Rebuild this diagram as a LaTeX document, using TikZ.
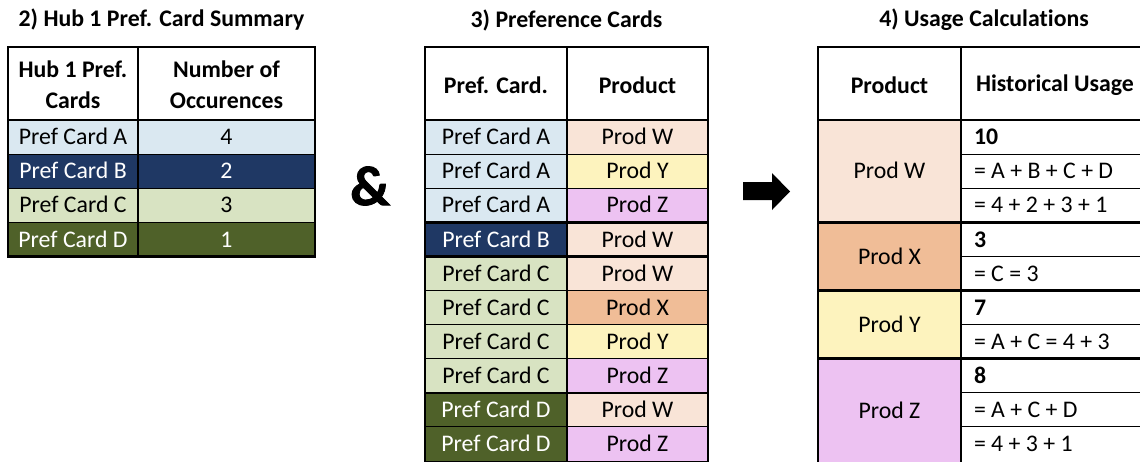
\documentclass[tikz,border=0pt]{standalone}
\usepackage{fontspec}
\setmainfont{Carlito}[Ligatures=NoCommon, RawFeature={-calt;-liga;-clig}]
\newfontfamily\ampfont{Carlito}[BoldFeatures={FakeBold=1.6}]
\definecolor{cardA}{HTML}{DAE8F1}
\definecolor{cardB}{HTML}{1F3864}
\definecolor{cardC}{HTML}{D8E3C2}
\definecolor{cardD}{HTML}{4F6129}
\definecolor{prodW}{HTML}{F9E4D7}
\definecolor{prodX}{HTML}{F0BD97}
\definecolor{prodY}{HTML}{FDF3BE}
\definecolor{prodZ}{HTML}{EDC2F2}
\tikzset{
  txt/.style={font=\fontsize{23.8}{31}\selectfont},
  cell/.style={txt, inner sep=0pt, outer sep=0pt, text height=19pt, text depth=3.7pt},
  hdr/.style={txt, font=\fontsize{23.8}{31}\selectfont\bfseries, align=center, inner sep=0pt},
  title/.style={txt, font=\fontsize{23.8}{31}\selectfont\bfseries, inner sep=0pt},
  dark/.style={text=white},
  calc/.style={cell, anchor=west},
  heavy/.style={line width=2.6pt},
  light/.style={line width=1.1pt},
  midrule/.style={line width=1.6pt},
}
\begin{document}
\begin{tikzpicture}[x=1pt,y=-1pt]
\useasboundingbox (0,0) rectangle (1140,461);
\clip (0,0) rectangle (1140,461);
\fill[white] (0,0) rectangle (1140,461);

% ---------- 2) summary table ----------
\node[title] (t2) at (161.5,20) {2) Hub 1 Pref. Card Summary};
\node[hdr] (s-h1) at (73,85) {Hub 1 Pref.\\Cards};
\node[hdr] (s-h2) at (226.5,85) {Number of\\Occurences};
\node[cell, fill=cardA, minimum width=130pt, minimum height=34.1pt] (s-a) at (73,137.05) {Pref Card A};
\node[cell, fill=cardA, minimum width=177pt, minimum height=34.1pt] (s-an) at (226.5,137.05) {4};
\node[cell, dark, fill=cardB, minimum width=130pt, minimum height=34.1pt] (s-b) at (73,171.15) {Pref Card B};
\node[cell, dark, fill=cardB, minimum width=177pt, minimum height=34.1pt] (s-bn) at (226.5,171.15) {2};
\node[cell, fill=cardC, minimum width=130pt, minimum height=34.1pt] (s-c) at (73,205.25) {Pref Card C};
\node[cell, fill=cardC, minimum width=177pt, minimum height=34.1pt] (s-cn) at (226.5,205.25) {3};
\node[cell, dark, fill=cardD, minimum width=130pt, minimum height=34.1pt] (s-d) at (73,239.35) {Pref Card D};
\node[cell, dark, fill=cardD, minimum width=177pt, minimum height=34.1pt] (s-dn) at (226.5,239.35) {1};
\draw[light] (8,154.1) -- (315,154.1) (8,188.2) -- (315,188.2) (8,222.3) -- (315,222.3);
\draw[midrule] (138,47) -- (138,256.4);
\draw[midrule] (8,120) -- (315,120);
\draw[heavy] (8,47) rectangle (315,256.4);

% ---------- ampersand and arrow ----------
\node[font=\fontsize{56}{60}\selectfont\ampfont\bfseries, inner sep=0pt] (amp) at (370,186) {\&};
\fill (743,182) -- (772,182) -- (772,173) -- (790,191.5) -- (772,210) -- (772,200) -- (743,200) -- cycle;

% ---------- 3) preference cards ----------
\node[title] (t3) at (566.5,20) {3) Preference Cards};
\node[hdr] (p-h1) at (496,85) {Pref. Card.};
\node[hdr] (p-h2) at (637.5,85) {Product};
\foreach \k/\card/\cc/\tc/\prod/\pc in {
  1/A/cardA/black/W/prodW, 2/A/cardA/black/Y/prodY, 3/A/cardA/black/Z/prodZ,
  4/B/cardB/white/W/prodW, 5/C/cardC/black/W/prodW, 6/C/cardC/black/X/prodX,
  7/C/cardC/black/Y/prodY, 8/C/cardC/black/Z/prodZ, 9/D/cardD/white/W/prodW,
  10/D/cardD/white/Z/prodZ}{
  \node[cell, fill=\cc, text=\tc, minimum width=142pt, minimum height=34.1pt]
    (p-c\k) at (496,{120+34.1*(\k-0.5)}) {Pref Card \card};
  \node[cell, fill=\pc, minimum width=141pt, minimum height=34.1pt]
    (p-p\k) at (637.5,{120+34.1*(\k-0.5)}) {Prod \prod};
}
\draw[light] (425,154.1) -- (708,154.1) (425,188.2) -- (708,188.2)
  (425,290.5) -- (708,290.5) (425,324.6) -- (708,324.6)
  (425,358.7) -- (708,358.7) (425,426.9) -- (708,426.9);
\draw[midrule] (567,47) -- (567,465);
\draw[heavy] (425,120) -- (708,120) (425,222.3) -- (708,222.3)
  (425,256.4) -- (708,256.4) (425,392.8) -- (708,392.8);
\draw[heavy] (425,47) rectangle (708,462);

% ---------- 4) usage calculations ----------
\node[title] (t4) at (984,20) {4) Usage Calculations};
\node[hdr] (u-h1) at (889.5,85) {Product};
\node[hdr] (u-h2) at (1055,85) {Historical Usage};
\node[cell, fill=prodW, minimum width=143pt, minimum height=102.3pt] (u-w) at (889.5,171.15) {Prod W};
\node[cell, fill=prodX, minimum width=143pt, minimum height=68.2pt] (u-x) at (889.5,256.4) {Prod X};
\node[cell, fill=prodY, minimum width=143pt, minimum height=68.2pt] (u-y) at (889.5,324.6) {Prod Y};
\node[cell, fill=prodZ, minimum width=143pt, minimum height=104pt] (u-z) at (889.5,410.7) {Prod Z};
\node[calc, font=\fontsize{23.8}{31}\selectfont\bfseries] (u-w1) at (974,137.05) {10};
\node[calc] (u-w2) at (974,171.15) {= A + B + C + D};
\node[calc] (u-w3) at (974,205.25) {= 4 + 2 + 3 + 1};
\node[calc, font=\fontsize{23.8}{31}\selectfont\bfseries] (u-x1) at (974,239.35) {3};
\node[calc] (u-x2) at (974,273.45) {= C = 3};
\node[calc, font=\fontsize{23.8}{31}\selectfont\bfseries] (u-y1) at (974,307.55) {7};
\node[calc] (u-y2) at (974,341.65) {= A + C = 4 + 3};
\node[calc, font=\fontsize{23.8}{31}\selectfont\bfseries] (u-z1) at (974,375.75) {8};
\node[calc] (u-z2) at (974,409.85) {= A + C + D};
\node[calc] (u-z3) at (974,443.95) {= 4 + 3 + 1};
\draw[light] (961,154.1) -- (1150,154.1) (961,188.2) -- (1150,188.2)
  (961,256.4) -- (1150,256.4) (961,324.6) -- (1150,324.6)
  (961,392.8) -- (1150,392.8) (961,426.9) -- (1150,426.9);
\draw[midrule] (961,47) -- (961,465);
\draw[heavy] (818,120) -- (1150,120) (818,222.3) -- (1150,222.3)
  (818,290.5) -- (1150,290.5) (818,358.7) -- (1150,358.7);
\draw[heavy] (818,465) -- (818,47) -- (1150,47);
\end{tikzpicture}
\end{document}
